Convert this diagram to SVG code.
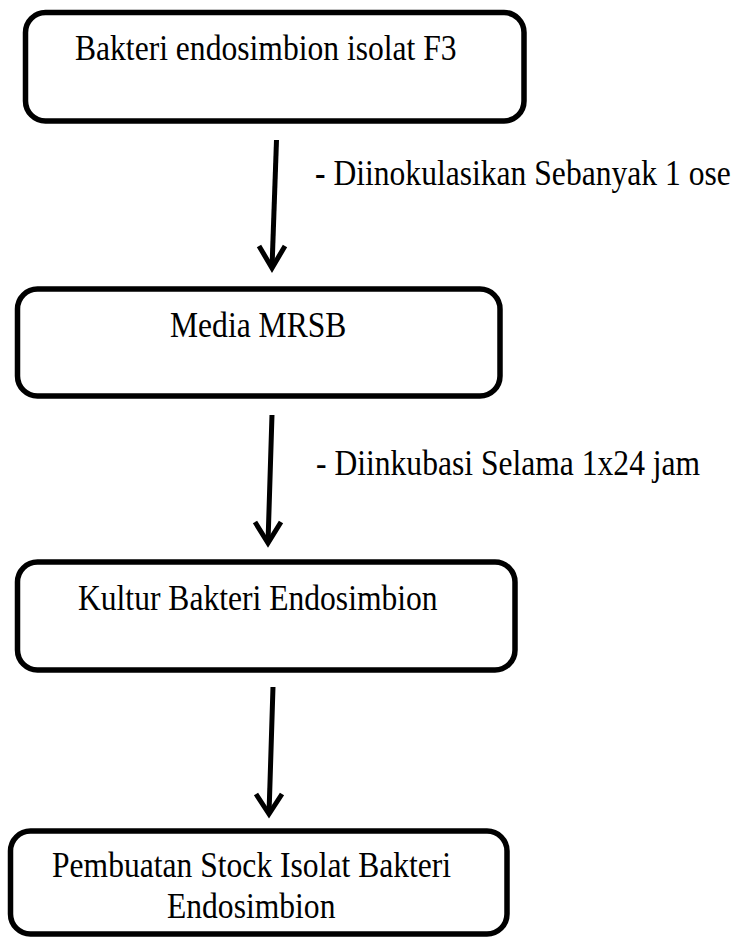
<svg xmlns="http://www.w3.org/2000/svg" width="740" height="938" viewBox="0 0 740 938">
  <style>
    .box { fill: #ffffff; stroke: #000000; stroke-width: 5.5; }
    .lbl { font-family: "Liberation Serif", "Times New Roman", serif; font-size: 31.6px; fill: #000000; }
    .shaft { stroke: #000000; stroke-width: 5; fill: none; }
    .head { stroke: #000000; stroke-width: 5; fill: none; stroke-linecap: butt; stroke-linejoin: miter; }
  </style>
  <rect x="0" y="0" width="740" height="938" fill="#ffffff"/>

  <g id="connectors">
    <g id="c1">
      <line class="shaft" x1="276.5" y1="140" x2="272" y2="268"/>
      <polyline class="head" points="259,246 272,268 285,246"/>
    </g>
    <g id="c2">
      <line class="shaft" x1="272" y1="415" x2="268" y2="543"/>
      <polyline class="head" points="255,522 268,543 281,522"/>
    </g>
    <g id="c3">
      <line class="shaft" x1="273" y1="687" x2="269" y2="814"/>
      <polyline class="head" points="256,794 269,814 282,794"/>
    </g>
  </g>

  <g id="n1">
    <rect class="box" x="25.5" y="12.5" width="498.5" height="108.5" rx="20"/>
    <text class="lbl" transform="translate(75,60) scale(1,1.12)">Bakteri endosimbion isolat F3</text>
  </g>

  <g id="e1">
    <text class="lbl" transform="translate(315,185) scale(1,1.12)"><tspan font-weight="bold">-</tspan> Diinokulasikan Sebanyak 1 ose</text>
  </g>

  <g id="n2">
    <rect class="box" x="17.5" y="289" width="482.5" height="107" rx="20"/>
    <text class="lbl" transform="translate(170,337) scale(1,1.12)">Media MRSB</text>
  </g>

  <g id="e2">
    <text class="lbl" transform="translate(316,475) scale(1,1.12)">- Diinkubasi Selama 1x24 jam</text>
  </g>

  <g id="n3">
    <rect class="box" x="17.5" y="562" width="497.5" height="108" rx="20"/>
    <text class="lbl" transform="translate(78,610) scale(1,1.12)">Kultur Bakteri Endosimbion</text>
  </g>

  <g id="n4">
    <rect class="box" x="10.5" y="831" width="496.5" height="103" rx="20"/>
    <text class="lbl" transform="translate(52,877) scale(1,1.12)">Pembuatan Stock Isolat Bakteri</text>
    <text class="lbl" transform="translate(167,918) scale(1,1.12)">Endosimbion</text>
  </g>
</svg>
